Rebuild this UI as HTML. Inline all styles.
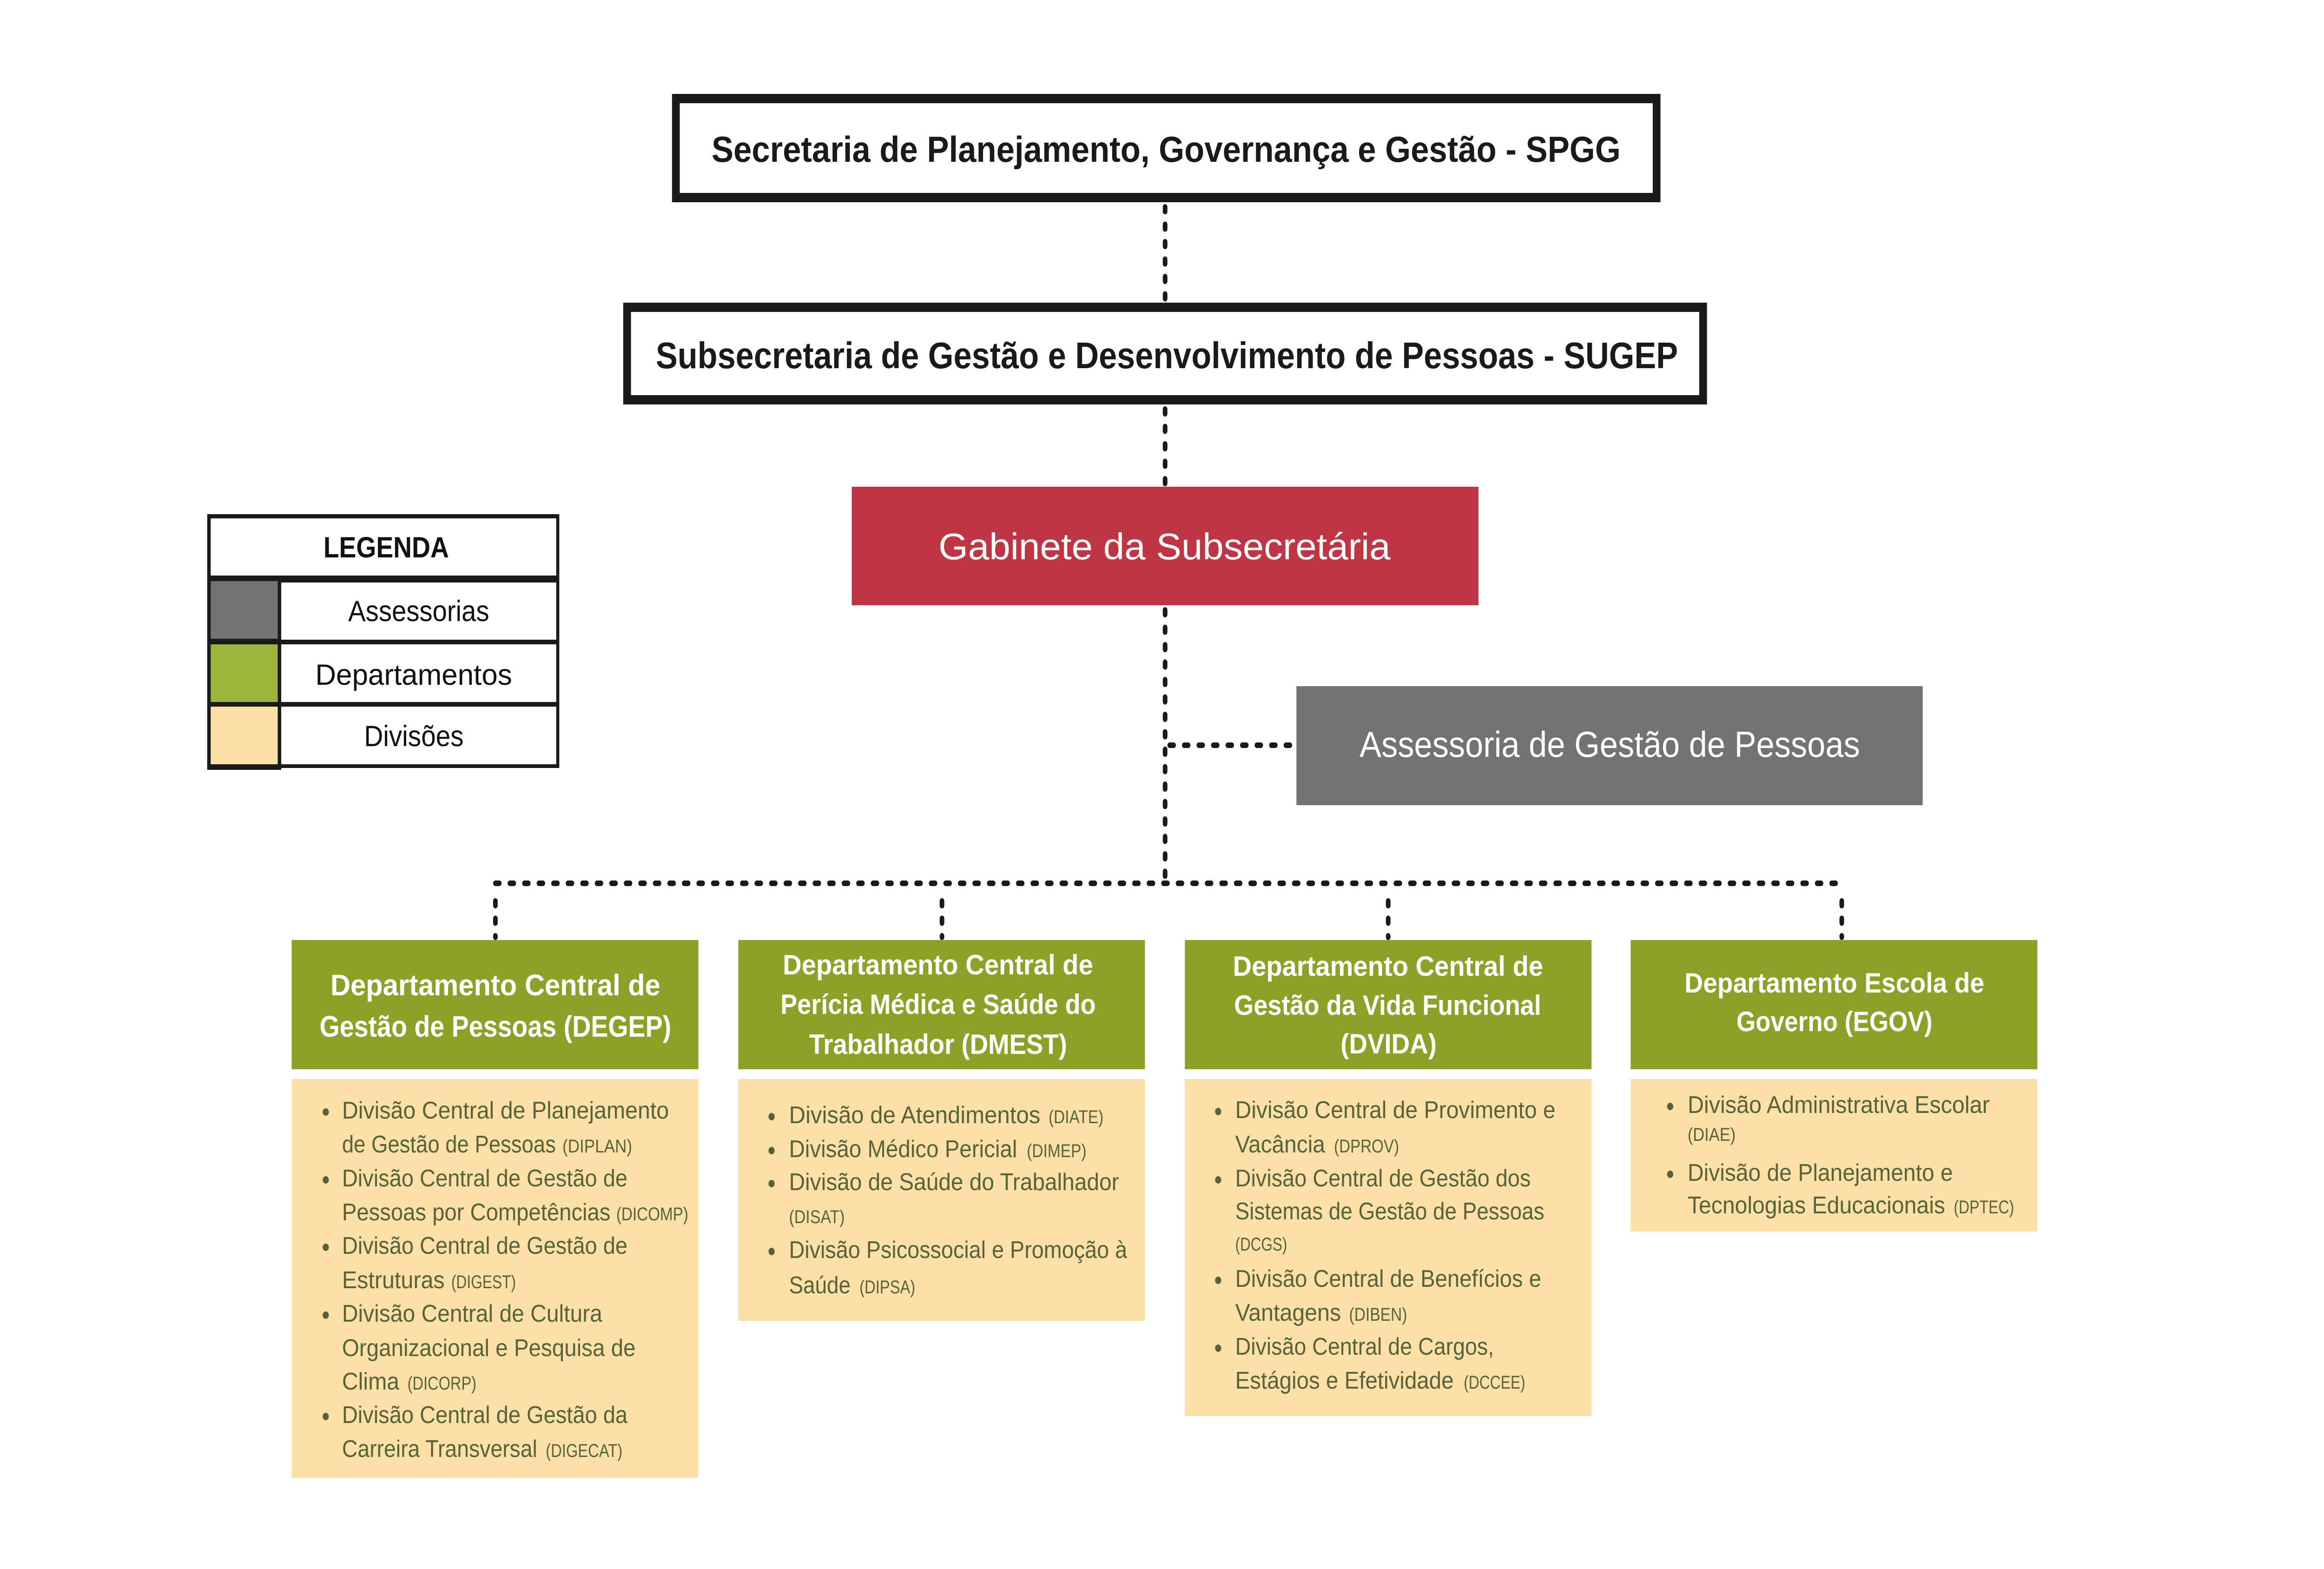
<!DOCTYPE html>
<html>
<head>
<meta charset="utf-8">
<meta name="viewport" content="width=device-width, initial-scale=1">
<style>
html,body{margin:0;padding:0;background:#fff;width:100%;height:100%;overflow:hidden;}
svg{display:block;width:100vw;height:100vh;}
text{font-family:"Liberation Sans","DejaVu Sans",sans-serif;}
.t{font-weight:bold;fill:#1a1a1a;}
.w{fill:#ffffff;}
.dt{font-weight:bold;fill:#ffffff;}
.dv{fill:#56633a;font-size:52px;}
.sm{fill:#56633a;font-size:40px;}
.lg{fill:#111111;font-size:63px;}
.dot{stroke:#1a1a1a;stroke-width:12;stroke-linecap:round;stroke-dasharray:10 27.5;fill:none;}
</style>
</head>
<body>
<svg viewBox="0 0 6000 3375" preserveAspectRatio="none" xmlns="http://www.w3.org/2000/svg">
<rect x="0" y="0" width="6000" height="3375" fill="#ffffff"/>

<!-- connectors -->
<line class="dot" x1="3008" y1="445" x2="3008" y2="645"/>
<line class="dot" x1="3008" y1="880" x2="3008" y2="1040"/>
<line class="dot" x1="3008" y1="1312" x2="3008" y2="1900"/>
<line class="dot" x1="3020" y1="1603" x2="3340" y2="1603"/>
<line class="dot" x1="1279" y1="1900" x2="4755" y2="1900"/>
<line class="dot" x1="1279" y1="1938" x2="1279" y2="2016"/>
<line class="dot" x1="2432" y1="1938" x2="2432" y2="2016"/>
<line class="dot" x1="3584" y1="1938" x2="3584" y2="2016"/>
<line class="dot" x1="4755" y1="1938" x2="4755" y2="2016"/>

<!-- SPGG -->
<rect x="1745" y="212" width="2532" height="213" fill="#ffffff" stroke="#1a1a1a" stroke-width="20"/>
<text class="t" x="1837" y="348" font-size="78" textLength="2347" lengthAdjust="spacingAndGlyphs">Secretaria de Planejamento, Governança e Gestão - SPGG</text>

<!-- SUGEP -->
<rect x="1619" y="661" width="2778" height="199" fill="#ffffff" stroke="#1a1a1a" stroke-width="20"/>
<text class="t" x="1693" y="792" font-size="80" textLength="2639" lengthAdjust="spacingAndGlyphs">Subsecretaria de Gestão e Desenvolvimento de Pessoas - SUGEP</text>

<!-- Gabinete -->
<rect x="2199" y="1047" width="1618" height="255" fill="#bf3544"/>
<text class="w" x="2423" y="1203" font-size="80" textLength="1167" lengthAdjust="spacingAndGlyphs">Gabinete da Subsecretária</text>

<!-- Assessoria -->
<rect x="3347" y="1476" width="1617" height="256" fill="#737373"/>
<text class="w" x="3510" y="1628" font-size="78" textLength="1292" lengthAdjust="spacingAndGlyphs">Assessoria de Gestão de Pessoas</text>

<!-- Legend -->
<rect x="535" y="1106" width="909" height="546" fill="#1a1a1a"/>
<rect x="535" y="1640" width="191" height="16" fill="#1a1a1a"/>
<rect x="544" y="1115" width="892" height="123" fill="#ffffff"/>
<rect x="544" y="1250" width="173" height="124" fill="#737373"/>
<rect x="726" y="1253" width="710" height="123" fill="#ffffff"/>
<rect x="544" y="1386" width="173" height="124" fill="#9cb53b"/>
<rect x="726" y="1386" width="710" height="124" fill="#ffffff"/>
<rect x="544" y="1520" width="173" height="124" fill="#fde0a8"/>
<rect x="726" y="1520" width="710" height="124" fill="#ffffff"/>
<text class="lg" x="835" y="1199" font-weight="bold" textLength="324" lengthAdjust="spacingAndGlyphs">LEGENDA</text>
<text class="lg" x="899" y="1336" textLength="364" lengthAdjust="spacingAndGlyphs">Assessorias</text>
<text class="lg" x="814" y="1473" textLength="508" lengthAdjust="spacingAndGlyphs">Departamentos</text>
<text class="lg" x="940" y="1605" textLength="257" lengthAdjust="spacingAndGlyphs">Divisões</text>

<!-- Departments (green) -->
<rect x="753" y="2022" width="1050" height="278" fill="#8da129"/>
<rect x="1906" y="2022" width="1050" height="278" fill="#8da129"/>
<rect x="3059" y="2022" width="1050" height="278" fill="#8da129"/>
<rect x="4210" y="2022" width="1050" height="278" fill="#8da129"/>

<text class="dt" x="853" y="2141" font-size="64" textLength="852" lengthAdjust="spacingAndGlyphs">Departamento Central de</text>
<text class="dt" x="825" y="2230" font-size="64" textLength="908" lengthAdjust="spacingAndGlyphs">Gestão de Pessoas (DEGEP)</text>

<text class="dt" x="2021" y="2096" font-size="60" textLength="801" lengthAdjust="spacingAndGlyphs">Departamento Central de</text>
<text class="dt" x="2015" y="2181" font-size="60" textLength="814" lengthAdjust="spacingAndGlyphs">Perícia Médica e Saúde do</text>
<text class="dt" x="2089" y="2267" font-size="60" textLength="666" lengthAdjust="spacingAndGlyphs">Trabalhador (DMEST)</text>

<text class="dt" x="3183" y="2099" font-size="60" textLength="801" lengthAdjust="spacingAndGlyphs">Departamento Central de</text>
<text class="dt" x="3186" y="2183" font-size="60" textLength="793" lengthAdjust="spacingAndGlyphs">Gestão da Vida Funcional</text>
<text class="dt" x="3461" y="2266" font-size="60" textLength="248" lengthAdjust="spacingAndGlyphs">(DVIDA)</text>

<text class="dt" x="4349" y="2135" font-size="60" textLength="774" lengthAdjust="spacingAndGlyphs">Departamento Escola de</text>
<text class="dt" x="4483" y="2218" font-size="60" textLength="506" lengthAdjust="spacingAndGlyphs">Governo (EGOV)</text>

<!-- Divisions (peach) -->
<rect x="753" y="2321" width="1050" height="858" fill="#fde0a8"/>
<rect x="1906" y="2321" width="1050" height="520" fill="#fde0a8"/>
<rect x="3059" y="2321" width="1050" height="725" fill="#fde0a8"/>
<rect x="4210" y="2321" width="1050" height="328" fill="#fde0a8"/>

<!-- Dept 1 divisions -->
<g fill="#56633a">
<circle cx="841" cy="2392" r="8"/>
<circle cx="841" cy="2538" r="8"/>
<circle cx="841" cy="2683" r="8"/>
<circle cx="841" cy="2829" r="8"/>
<circle cx="841" cy="3047" r="8"/>
</g>
<text class="dv" x="883" y="2406" textLength="844" lengthAdjust="spacingAndGlyphs">Divisão Central de Planejamento</text>
<text class="dv" x="883" y="2479" textLength="552" lengthAdjust="spacingAndGlyphs">de Gestão de Pessoas</text>
<text class="sm" x="1452" y="2479" textLength="180" lengthAdjust="spacingAndGlyphs">(DIPLAN)</text>
<text class="dv" x="883" y="2552" textLength="737" lengthAdjust="spacingAndGlyphs">Divisão Central de Gestão de</text>
<text class="dv" x="883" y="2625" textLength="693" lengthAdjust="spacingAndGlyphs">Pessoas por Competências</text>
<text class="sm" x="1591" y="2625" textLength="186" lengthAdjust="spacingAndGlyphs">(DICOMP)</text>
<text class="dv" x="883" y="2697" textLength="737" lengthAdjust="spacingAndGlyphs">Divisão Central de Gestão de</text>
<text class="dv" x="883" y="2771" textLength="265" lengthAdjust="spacingAndGlyphs">Estruturas</text>
<text class="sm" x="1165" y="2771" textLength="167" lengthAdjust="spacingAndGlyphs">(DIGEST)</text>
<text class="dv" x="883" y="2843" textLength="672" lengthAdjust="spacingAndGlyphs">Divisão Central de Cultura</text>
<text class="dv" x="883" y="2917" textLength="758" lengthAdjust="spacingAndGlyphs">Organizacional e Pesquisa de</text>
<text class="dv" x="883" y="2989" textLength="148" lengthAdjust="spacingAndGlyphs">Clima</text>
<text class="sm" x="1052" y="2989" textLength="178" lengthAdjust="spacingAndGlyphs">(DICORP)</text>
<text class="dv" x="883" y="3061" textLength="737" lengthAdjust="spacingAndGlyphs">Divisão Central de Gestão da</text>
<text class="dv" x="883" y="3134" textLength="504" lengthAdjust="spacingAndGlyphs">Carreira Transversal</text>
<text class="sm" x="1409" y="3134" textLength="198" lengthAdjust="spacingAndGlyphs">(DIGECAT)</text>

<!-- Dept 2 divisions -->
<g fill="#56633a">
<circle cx="1992" cy="2402" r="8"/>
<circle cx="1992" cy="2475" r="8"/>
<circle cx="1992" cy="2546" r="8"/>
<circle cx="1992" cy="2692" r="8"/>
</g>
<text class="dv" x="2037" y="2416" textLength="649" lengthAdjust="spacingAndGlyphs">Divisão de Atendimentos</text>
<text class="sm" x="2707" y="2416" textLength="142" lengthAdjust="spacingAndGlyphs">(DIATE)</text>
<text class="dv" x="2037" y="2489" textLength="589" lengthAdjust="spacingAndGlyphs">Divisão Médico Pericial</text>
<text class="sm" x="2651" y="2489" textLength="154" lengthAdjust="spacingAndGlyphs">(DIMEP)</text>
<text class="dv" x="2037" y="2560" textLength="852" lengthAdjust="spacingAndGlyphs">Divisão de Saúde do Trabalhador</text>
<text class="sm" x="2037" y="2631" textLength="144" lengthAdjust="spacingAndGlyphs">(DISAT)</text>
<text class="dv" x="2037" y="2706" textLength="873" lengthAdjust="spacingAndGlyphs">Divisão Psicossocial e Promoção à</text>
<text class="dv" x="2037" y="2782" textLength="159" lengthAdjust="spacingAndGlyphs">Saúde</text>
<text class="sm" x="2219" y="2782" textLength="144" lengthAdjust="spacingAndGlyphs">(DIPSA)</text>

<!-- Dept 3 divisions -->
<g fill="#56633a">
<circle cx="3145" cy="2391" r="8"/>
<circle cx="3145" cy="2538" r="8"/>
<circle cx="3145" cy="2754" r="8"/>
<circle cx="3145" cy="2900" r="8"/>
</g>
<text class="dv" x="3189" y="2405" textLength="827" lengthAdjust="spacingAndGlyphs">Divisão Central de Provimento e</text>
<text class="dv" x="3189" y="2479" textLength="232" lengthAdjust="spacingAndGlyphs">Vacância</text>
<text class="sm" x="3444" y="2479" textLength="168" lengthAdjust="spacingAndGlyphs">(DPROV)</text>
<text class="dv" x="3189" y="2552" textLength="763" lengthAdjust="spacingAndGlyphs">Divisão Central de Gestão dos</text>
<text class="dv" x="3189" y="2623" textLength="798" lengthAdjust="spacingAndGlyphs">Sistemas de Gestão de Pessoas</text>
<text class="sm" x="3189" y="2690" textLength="134" lengthAdjust="spacingAndGlyphs">(DCGS)</text>
<text class="dv" x="3189" y="2768" textLength="790" lengthAdjust="spacingAndGlyphs">Divisão Central de Benefícios e</text>
<text class="dv" x="3189" y="2841" textLength="273" lengthAdjust="spacingAndGlyphs">Vantagens</text>
<text class="sm" x="3483" y="2841" textLength="150" lengthAdjust="spacingAndGlyphs">(DIBEN)</text>
<text class="dv" x="3189" y="2914" textLength="668" lengthAdjust="spacingAndGlyphs">Divisão Central de Cargos,</text>
<text class="dv" x="3189" y="2987" textLength="564" lengthAdjust="spacingAndGlyphs">Estágios e Efetividade</text>
<text class="sm" x="3779" y="2987" textLength="159" lengthAdjust="spacingAndGlyphs">(DCCEE)</text>

<!-- Dept 4 divisions -->
<g fill="#56633a">
<circle cx="4312" cy="2380" r="8"/>
<circle cx="4312" cy="2526" r="8"/>
</g>
<text class="dv" x="4357" y="2394" textLength="780" lengthAdjust="spacingAndGlyphs">Divisão Administrativa Escolar</text>
<text class="sm" x="4357" y="2454" textLength="124" lengthAdjust="spacingAndGlyphs">(DIAE)</text>
<text class="dv" x="4357" y="2540" textLength="685" lengthAdjust="spacingAndGlyphs">Divisão de Planejamento e</text>
<text class="dv" x="4357" y="2610" textLength="665" lengthAdjust="spacingAndGlyphs">Tecnologias Educacionais</text>
<text class="sm" x="5044" y="2610" textLength="156" lengthAdjust="spacingAndGlyphs">(DPTEC)</text>
</svg>
</body>
</html>
